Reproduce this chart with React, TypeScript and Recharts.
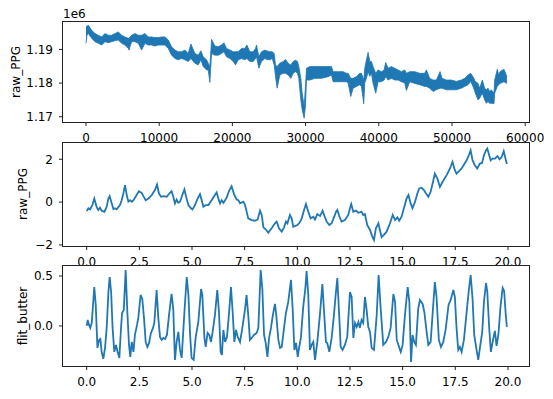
import { Area, ComposedChart, Line, XAxis, YAxis } from "recharts";

const BLUE = "#1f77b4";
const FONT = "DejaVu Sans";

// raw_PPG, whole recording: sample index and the upper / lower edge of the noisy band
const topSample = [
  0, 136, 318, 774, 1229, 1684, 2139, 2594, 3049, 3504, 3959, 4414, 4869, 5324, 5779, 5870,
  6234, 6689, 7144, 7599, 8054, 8509, 8964, 9419, 9874, 10329, 10784, 11239, 11694, 12149,
  12604, 13059, 13514, 13969, 14333, 14879, 15334, 15698, 16016, 16471, 16699, 16926, 17154,
  17609, 18064, 18519, 18837, 19201, 19656, 20111, 20430, 20794, 21249, 21704, 21977, 22386,
  22841, 23160, 23296, 23615, 23979, 24434, 24661, 25116, 25435, 25708, 25890, 26117, 26481,
  26936, 27254, 27618, 27982, 28301, 28620, 28893, 29075, 29348, 29530, 29803, 29985, 30121,
  30576, 31259, 32169, 33079, 33534, 33761, 34444, 35126, 35581, 35809, 36173, 36491, 36946,
  37401, 37629, 37947, 38084, 38311, 38539, 38766, 38994, 39221, 39585, 39904, 40359, 40723,
  40950, 41269, 41724, 42179, 42634, 43089, 43544, 43771, 44226, 44909, 45591, 46274, 46501,
  46956, 47411, 47866, 48367, 48640, 49231, 49914, 50596, 51279, 51734, 52189, 52553, 52871,
  53190, 53554, 53781, 54145, 54464, 54691, 54919, 55146, 55374, 55738, 55829, 56193, 56375,
  56552, 57099, 57500,
];
const topHi = [
  1196700, 1196900, 1197200, 1195700, 1194700, 1194200, 1193700, 1194700, 1194200, 1194200,
  1194700, 1195200, 1194200, 1193700, 1193300, 1193300, 1194200, 1194700, 1194200, 1194200,
  1194700, 1193700, 1193700, 1193500, 1193500, 1193700, 1193700, 1192800, 1190800, 1189800,
  1189300, 1189300, 1189800, 1188800, 1191600, 1188800, 1188300, 1189600, 1187800, 1186900,
  1185900, 1184900, 1193000, 1191000, 1190800, 1191300, 1192000, 1190300, 1189800, 1189300,
  1189300, 1189300, 1190300, 1190300, 1191300, 1189300, 1189300, 1190300, 1191300, 1187800,
  1189300, 1189800, 1189600, 1189300, 1189300, 1188800, 1185400, 1184900, 1185900, 1186400,
  1187000, 1185900, 1185400, 1186400, 1186800, 1186400, 1184900, 1181400, 1177000, 1173100,
  1178900, 1184400, 1184900, 1184900, 1184900, 1184900, 1184900, 1183400, 1183400, 1183400,
  1182900, 1182900, 1181400, 1181400, 1181900, 1182900, 1182900, 1180900, 1184400, 1186900,
  1189100, 1186400, 1186400, 1184900, 1182900, 1183900, 1183400, 1183900, 1186100, 1184400,
  1184900, 1184400, 1183900, 1183400, 1183900, 1182900, 1183400, 1183400, 1182900, 1182900,
  1183900, 1181400, 1180900, 1180900, 1183400, 1181400, 1180900, 1180900, 1180500, 1180900,
  1181400, 1182400, 1182900, 1181900, 1180500, 1179900, 1178500, 1180900, 1178500, 1178000,
  1178500, 1177500, 1178000, 1177000, 1180900, 1184100, 1182400, 1183400, 1184100, 1181900,
];
const topLo = [
  1191800, 1194200, 1194700, 1193300, 1192300, 1191800, 1191300, 1192300, 1192000, 1192300,
  1192600, 1192800, 1191800, 1191300, 1190300, 1189800, 1192300, 1192300, 1191800, 1189800,
  1191800, 1191300, 1191300, 1191000, 1191300, 1191300, 1191300, 1190300, 1188300, 1187300,
  1186900, 1187300, 1186900, 1186400, 1187300, 1185900, 1185400, 1186900, 1184900, 1183900,
  1183900, 1180200, 1188800, 1188300, 1188300, 1188800, 1189300, 1187800, 1187300, 1186400,
  1185400, 1186900, 1187300, 1186900, 1187300, 1186400, 1186400, 1187300, 1187800, 1184400,
  1186400, 1187300, 1187000, 1186900, 1187300, 1185400, 1181900, 1178500, 1182400, 1182900,
  1182900, 1182400, 1181400, 1182900, 1183400, 1182900, 1181400, 1175000, 1172100, 1169600,
  1173100, 1180900, 1180900, 1181400, 1181400, 1181900, 1182400, 1180400, 1180400, 1180400,
  1180400, 1180000, 1176000, 1178500, 1179000, 1179500, 1179000, 1173900, 1180000, 1181400,
  1183400, 1182000, 1182900, 1179900, 1177000, 1180400, 1180400, 1180900, 1181900, 1180900,
  1181400, 1180900, 1180900, 1180400, 1180000, 1177800, 1180400, 1179900, 1179500, 1179000,
  1179000, 1178500, 1177500, 1178000, 1178500, 1178500, 1178000, 1178000, 1178000, 1178500,
  1179000, 1179500, 1180500, 1179000, 1177000, 1175000, 1175500, 1177000, 1175000, 1174000,
  1174500, 1174000, 1174000, 1173900, 1177000, 1179000, 1179500, 1179900, 1180400, 1179900,
];
const topXTicks = [0, 10000, 20000, 30000, 40000, 50000, 60000];
const topYTicks = [1170000, 1180000, 1190000];

// raw_PPG, 20 s window (seconds, normalised value)
const rawT = [
  0, 0.08, 0.16, 0.27, 0.36, 0.47, 0.55, 0.63, 0.71, 0.84, 0.95, 1.03, 1.09, 1.19, 1.27, 1.34,
  1.42, 1.58, 1.66, 1.74, 1.82, 1.9, 1.98, 2.06, 2.14, 2.22, 2.37, 2.48, 2.61, 2.69, 2.8, 2.93,
  3.09, 3.24, 3.34, 3.43, 3.53, 3.64, 3.8, 3.92, 4.03, 4.11, 4.19, 4.27, 4.35, 4.43, 4.54, 4.64,
  4.72, 4.83, 4.95, 5.02, 5.14, 5.27, 5.38, 5.46, 5.54, 5.65, 5.78, 5.93, 6.09, 6.17, 6.25, 6.33,
  6.41, 6.49, 6.57, 6.65, 6.76, 6.88, 7.01, 7.12, 7.2, 7.28, 7.44, 7.52, 7.67, 7.83, 7.99, 8.12,
  8.23, 8.31, 8.39, 8.5, 8.62, 8.78, 8.94, 9.02, 9.13, 9.26, 9.37, 9.46, 9.53, 9.65, 9.73, 9.81,
  9.89, 10.0, 10.09, 10.21, 10.32, 10.41, 10.52, 10.63, 10.76, 10.84, 10.95, 11.08, 11.2, 11.31,
  11.39, 11.52, 11.63, 11.74, 11.84, 11.9, 11.99, 12.1, 12.26, 12.42, 12.5, 12.56, 12.66, 12.78,
  12.9, 13.05, 13.13, 13.21, 13.32, 13.45, 13.56, 13.64, 13.73, 13.85, 13.92, 14.0, 14.11, 14.24,
  14.4, 14.53, 14.64, 14.75, 14.84, 14.95, 15.06, 15.19, 15.28, 15.38, 15.47, 15.59, 15.7, 15.79,
  15.9, 16.01, 16.11, 16.22, 16.33, 16.46, 16.53, 16.65, 16.77, 16.9, 17.09, 17.25, 17.37, 17.48,
  17.56, 17.69, 17.8, 18.04, 18.16, 18.23, 18.32, 18.43, 18.54, 18.67, 18.77, 18.86, 18.96, 19.02,
  19.11, 19.18, 19.27, 19.38, 19.5, 19.6, 19.7, 19.8, 19.88, 19.95,
];
const rawV = [
  -0.42, -0.29, -0.34, -0.14, 0.17, -0.22, -0.37, -0.26, -0.4, -0.45, -0.22, 0.17, 0.28, -0.06,
  -0.33, -0.29, -0.34, -0.14, 0.09, 0.4, 0.79, 0.33, 0.02, 0.09, 0.02, 0.09, 0.33, 0.51, 0.43,
  0.28, 0.09, 0.17, 0.33, 0.56, 0.82, 0.4, 0.25, 0.28, 0.25, 0.4, 0.51, 0.25, -0.06, 0.12, -0.03,
  0.02, 0.33, 0.59, 0.25, -0.14, -0.29, -0.34, -0.14, 0.17, 0.37, 0.09, -0.22, -0.14, -0.14, 0.09,
  0.33, 0.45, 0.17, -0.06, 0.09, -0.03, 0.09, 0.22, 0.53, 0.74, 0.33, 0.12, 0.09, -0.06, 0.02,
  -0.14, -0.76, -0.84, -0.87, -0.81, -0.4, -0.6, -1.18, -1.27, -1.43, -1.22, -0.99, -0.91, -1.22,
  -1.38, -1.18, -0.91, -0.99, -0.6, -0.76, -1.15, -1.12, -1.07, -0.99, -0.76, -0.37, -0.09, -0.45,
  -0.76, -0.68, -0.81, -0.56, -0.65, -0.4, -0.71, -0.91, -1.07, -0.99, -0.71, -0.45, -0.37, -0.65,
  -0.91, -0.84, -0.6, -0.29, -0.09, -0.45, -0.4, -0.5, -0.45, -0.6, -0.56, -1.07, -1.3, -1.61,
  -1.77, -1.22, -0.99, -1.3, -1.64, -1.53, -1.38, -0.99, -0.6, -0.84, -0.71, -0.87, -0.68, -0.29,
  0.17, 0.33, -0.06, -0.29, 0.02, 0.4, 0.64, 0.67, 0.56, 0.4, 0.25, 0.48, 1.02, 1.33, 1.1, 0.71,
  0.95, 1.26, 1.57, 1.88, 1.49, 1.33, 1.46, 1.57, 1.95, 2.23, 2.42, 1.95, 1.72, 1.57, 1.8, 1.83,
  2.19, 2.42, 2.5, 2.19, 1.95, 2.03, 2.03, 2.15, 2.0, 2.1, 2.38, 2.05, 1.78,
];
const rawYTicks = [-2, 0, 2];

// flit_butter, same 20 s window
const filtT = [
  0, 0.05, 0.11, 0.17, 0.24, 0.32, 0.36, 0.43, 0.51, 0.59, 0.65, 0.71, 0.79, 0.87, 0.95, 1.03,
  1.09, 1.16, 1.23, 1.31, 1.39, 1.47, 1.55, 1.63, 1.68, 1.76, 1.85, 1.93, 2.01, 2.07, 2.14, 2.22,
  2.29, 2.39, 2.45, 2.56, 2.64, 2.72, 2.8, 2.88, 2.96, 3.05, 3.15, 3.21, 3.32, 3.4, 3.48, 3.56,
  3.64, 3.72, 3.81, 3.91, 4.03, 4.11, 4.19, 4.27, 4.35, 4.43, 4.51, 4.64, 4.75, 4.83, 4.91, 4.98,
  5.08, 5.17, 5.3, 5.43, 5.49, 5.59, 5.65, 5.74, 5.82, 5.9, 5.98, 6.09, 6.2, 6.28, 6.36, 6.42,
  6.49, 6.57, 6.66, 6.76, 6.85, 6.93, 7.01, 7.09, 7.17, 7.28, 7.39, 7.52, 7.59, 7.67, 7.75, 7.83,
  7.94, 8.07, 8.15, 8.26, 8.34, 8.42, 8.5, 8.58, 8.66, 8.75, 8.84, 8.94, 9.0, 9.1, 9.18, 9.26,
  9.37, 9.46, 9.57, 9.7, 9.78, 9.86, 9.94, 10.02, 10.09, 10.17, 10.28, 10.38, 10.44, 10.52, 10.6,
  10.68, 10.76, 10.84, 10.95, 11.08, 11.19, 11.27, 11.36, 11.42, 11.52, 11.63, 11.74, 11.82, 11.9,
  11.98, 12.06, 12.15, 12.26, 12.37, 12.5, 12.58, 12.66, 12.74, 12.82, 12.9, 12.97, 13.05, 13.13,
  13.21, 13.29, 13.37, 13.45, 13.53, 13.64, 13.77, 13.86, 13.96, 14.08, 14.21, 14.32, 14.43,
  14.56, 14.64, 14.72, 14.8, 14.91, 15.0, 15.11, 15.24, 15.32, 15.4, 15.47, 15.55, 15.63, 15.74,
  15.82, 15.95, 16.03, 16.14, 16.22, 16.33, 16.42, 16.53, 16.61, 16.72, 16.82, 16.93, 17.04,
  17.18, 17.28, 17.41, 17.48, 17.56, 17.64, 17.72, 17.8, 17.91, 18.04, 18.15, 18.23, 18.32, 18.4,
  18.51, 18.59, 18.67, 18.78, 18.86, 18.96, 19.02, 19.11, 19.19, 19.3, 19.38, 19.46, 19.55,
  19.65, 19.75, 19.82, 19.9, 19.95,
];
const filtV = [
  0.0, 0.06, 0.01, -0.02, 0.03, 0.27, 0.39, 0.21, -0.22, -0.14, -0.13, -0.26, -0.33, -0.22, -0.02,
  0.34, 0.49, 0.34, -0.02, -0.26, -0.19, -0.26, -0.32, -0.02, 0.13, 0.16, 0.56, 0.14, -0.19, -0.31,
  -0.16, -0.26, -0.09, 0.01, 0.08, 0.31, 0.27, 0.08, -0.16, -0.21, -0.17, -0.07, -0.02, 0.03, 0.36,
  0.08, -0.11, -0.14, -0.12, -0.13, -0.09, 0.11, 0.32, 0.17, -0.34, -0.16, -0.06, -0.24, -0.32,
  0.14, 0.49, 0.31, -0.09, -0.32, -0.34, -0.12, 0.04, 0.37, 0.31, -0.12, -0.21, -0.07, -0.09, -0.16,
  -0.06, 0.11, 0.36, 0.14, -0.26, -0.29, -0.04, -0.16, -0.11, 0.13, 0.39, 0.14, -0.16, -0.04, -0.11,
  -0.16, -0.02, 0.17, 0.31, 0.11, -0.14, -0.12, -0.09, -0.07, -0.02, 0.56, 0.37, -0.09, -0.17,
  -0.31, -0.12, -0.02, 0.11, 0.22, 0.11, -0.14, -0.22, -0.21, -0.02, 0.13, 0.24, 0.46, 0.17, -0.24,
  -0.17, -0.31, -0.21, -0.12, 0.19, 0.37, 0.55, 0.31, -0.24, -0.19, -0.16, -0.34, -0.16, 0.13, 0.42,
  0.14, -0.16, -0.17, -0.26, -0.12, 0.11, 0.31, 0.48, 0.14, -0.21, -0.24, -0.19, -0.11, 0.34, 0.29,
  -0.12, 0.03, -0.01, 0.04, -0.02, 0.06, 0.03, 0.29, 0.16, -0.01, -0.06, -0.22, -0.24, 0.11, 0.51,
  0.17, -0.19, -0.16, -0.11, -0.02, 0.32, 0.24, -0.14, -0.19, -0.26, -0.19, 0.11, 0.39, 0.24, -0.36,
  -0.09, -0.16, -0.19, 0.17, 0.26, 0.22, 0.14, -0.06, -0.19, -0.16, 0.11, 0.44, 0.29, -0.14, -0.21,
  -0.16, -0.04, 0.21, 0.26, 0.36, 0.29, -0.02, -0.24, -0.21, -0.26, -0.14, 0.14, 0.37, 0.51, 0.27,
  -0.09, -0.24, -0.34, -0.22, -0.06, 0.24, 0.43, 0.34, -0.02, -0.26, -0.13, -0.05, -0.2, -0.08,
  0.2, 0.38, 0.35, 0.1, -0.01,
];
const filtYTicks = [0, 0.5];
const secTicks = [0, 2.5, 5, 7.5, 10, 12.5, 15, 17.5, 20];

const topData = topSample.map((s, i) => ({ x: s, band: [topLo[i], topHi[i]] }));
const rawData = rawT.map((t, i) => ({ x: t, v: rawV[i] }));
const filtData = filtT.map((t, i) => ({ x: t, v: filtV[i] }));

const minus = (s: string) => s.replace("-", "\u2212");
const tickStyle = { fill: "#000", fontSize: 12, fontFamily: FONT };
const spine = { stroke: "#222", strokeWidth: 1 };

type PanelProps = {
  top: number;
  height: number;
  data: Array<Record<string, unknown>>;
  xDomain: [number, number];
  xTicks: number[];
  xFmt: (v: number) => string;
  yDomain: [number, number];
  yTicks: number[];
  yFmt: (v: number) => string;
  children: React.ReactNode;
};

// plot box: x 63..529, y top+22 .. top+height-23
function Panel(p: PanelProps) {
  return (
    <div style={{ position: "absolute", left: 0, top: p.top }}>
      <ComposedChart
        width={553}
        height={p.height}
        data={p.data}
        margin={{ top: 22, right: 24, bottom: 0, left: 0 }}
      >
        <XAxis
          dataKey="x"
          type="number"
          domain={p.xDomain}
          ticks={p.xTicks}
          tickFormatter={p.xFmt}
          interval={0}
          allowDataOverflow
          height={23}
          tick={tickStyle}
          tickSize={4}
          tickMargin={7}
          tickLine={spine}
          axisLine={false}
        />
        <YAxis
          type="number"
          domain={p.yDomain}
          ticks={p.yTicks}
          tickFormatter={p.yFmt}
          interval={0}
          allowDataOverflow
          width={63}
          tick={tickStyle}
          tickSize={4}
          tickMargin={6}
          tickLine={spine}
          axisLine={false}
        />
        {p.children}
      </ComposedChart>
      <div
        style={{
          position: "absolute",
          left: 62,
          top: 21,
          width: 468,
          height: p.height - 43,
          boxSizing: "border-box",
          border: "1px solid #222",
          pointerEvents: "none",
        }}
      />
    </div>
  );
}

function YTitle({ text, x, y }: { text: string; x: number; y: number }) {
  return (
    <div
      style={{
        position: "absolute",
        left: x,
        top: y,
        transform: "translate(-50%, -50%) rotate(-90deg)",
        fontSize: 12,
        lineHeight: 1,
        whiteSpace: "nowrap",
      }}
    >
      {text}
    </div>
  );
}

export default function App() {
  return (
    <div
      style={{
        position: "absolute",
        left: 0,
        top: 0,
        width: 553,
        height: 399,
        background: "#fff",
        fontFamily: FONT,
        color: "#000",
        overflow: "hidden",
      }}
    >
      <Panel
        top={0}
        height={145}
        data={topData}
        xDomain={[-3140, 60520]}
        xTicks={topXTicks}
        xFmt={(v) => String(v)}
        yDomain={[1168440, 1198140]}
        yTicks={topYTicks}
        yFmt={(v) => (v / 1e6).toFixed(2)}
      >
        <Area
          dataKey="band"
          type="linear"
          stroke={BLUE}
          strokeWidth={0.8}
          fill={BLUE}
          fillOpacity={1}
          isAnimationActive={false}
        />
      </Panel>
      <Panel
        top={121}
        height={148}
        data={rawData}
        xDomain={[-1.125, 21.0]}
        xTicks={secTicks}
        xFmt={(v) => v.toFixed(1)}
        yDomain={[-2.05, 2.76]}
        yTicks={rawYTicks}
        yFmt={(v) => minus(String(v))}
      >
        <Line dataKey="v" type="linear" stroke={BLUE} strokeWidth={1.8} dot={false} isAnimationActive={false} />
      </Panel>
      <Panel
        top={244}
        height={145}
        data={filtData}
        xDomain={[-1.125, 21.0]}
        xTicks={secTicks}
        xFmt={(v) => v.toFixed(1)}
        yDomain={[-0.401, 0.6]}
        yTicks={filtYTicks}
        yFmt={(v) => minus(v.toFixed(1))}
      >
        <Line dataKey="v" type="linear" stroke={BLUE} strokeWidth={1.8} dot={false} isAnimationActive={false} />
      </Panel>
      <div style={{ position: "absolute", left: 63, top: 8, fontSize: 12, lineHeight: 1 }}>1e6</div>
      <YTitle text="raw_PPG" x={16} y={72} />
      <YTitle text="raw_PPG" x={23} y={194} />
      <YTitle text="flit_butter" x={23} y={316} />
    </div>
  );
}
